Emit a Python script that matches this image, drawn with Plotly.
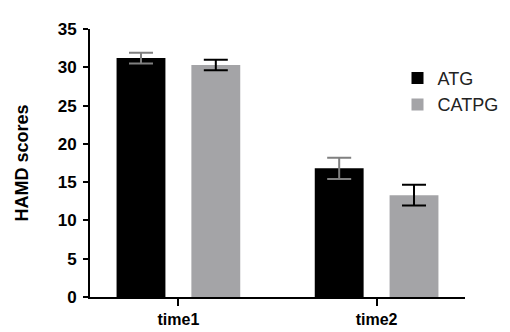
import plotly.graph_objects as go

categories = ["time1", "time2"]
atg_values = [31.2, 16.8]
atg_errors = [0.7, 1.4]
catpg_values = [30.3, 13.3]
catpg_errors = [0.7, 1.35]
y_ticks = [0, 5, 10, 15, 20, 25, 30, 35]

FONT = "Liberation Sans, Arial, sans-serif"

fig = go.Figure()
fig.add_trace(go.Bar(
    name="ATG", x=categories, y=atg_values,
    marker=dict(color="#000000", line=dict(width=0)),
    error_y=dict(type="data", array=atg_errors, visible=True,
                 color="#808080", thickness=2, width=12),
))
fig.add_trace(go.Bar(
    name="CATPG", x=categories, y=catpg_values,
    marker=dict(color="#a4a4a7", line=dict(width=0)),
    error_y=dict(type="data", array=catpg_errors, visible=True,
                 color="#000000", thickness=2, width=12),
))

fig.update_layout(
    width=510, height=332,
    margin=dict(l=81.5, r=53, t=19.5, b=34, pad=0),
    paper_bgcolor="white", plot_bgcolor="white",
    barmode="group", bargap=0.245, bargroupgap=0.347,
    font=dict(family=FONT, color="#000000"),
    showlegend=True,
    legend=dict(
        x=0.82, y=0.885, xanchor="left", yanchor="top",
        font=dict(family=FONT, size=18, color="#222222"),
        bgcolor="rgba(0,0,0,0)",
    ),
)
fig.update_xaxes(
    range=[-0.446, 1.446],
    showline=True, linecolor="#000000", linewidth=2,
    ticks="outside", ticklen=7, tickwidth=2, tickcolor="#000000",
    tickfont=dict(family=FONT, size=16, color="#000000", weight="bold"),
    showgrid=False, zeroline=False,
)
fig.update_yaxes(
    range=[0, 35], tickvals=y_ticks,
    showline=True, linecolor="#000000", linewidth=2,
    ticks="outside", ticklen=5, tickwidth=2, tickcolor="#000000",
    ticklabelstandoff=3,
    tickfont=dict(family=FONT, size=17, color="#000000", weight="bold"),
    showgrid=False, zeroline=False,
    title=dict(text="HAMD scores", standoff=24,
               font=dict(family=FONT, size=18, color="#000000", weight="bold")),
)

fig.write_html("out.html")
